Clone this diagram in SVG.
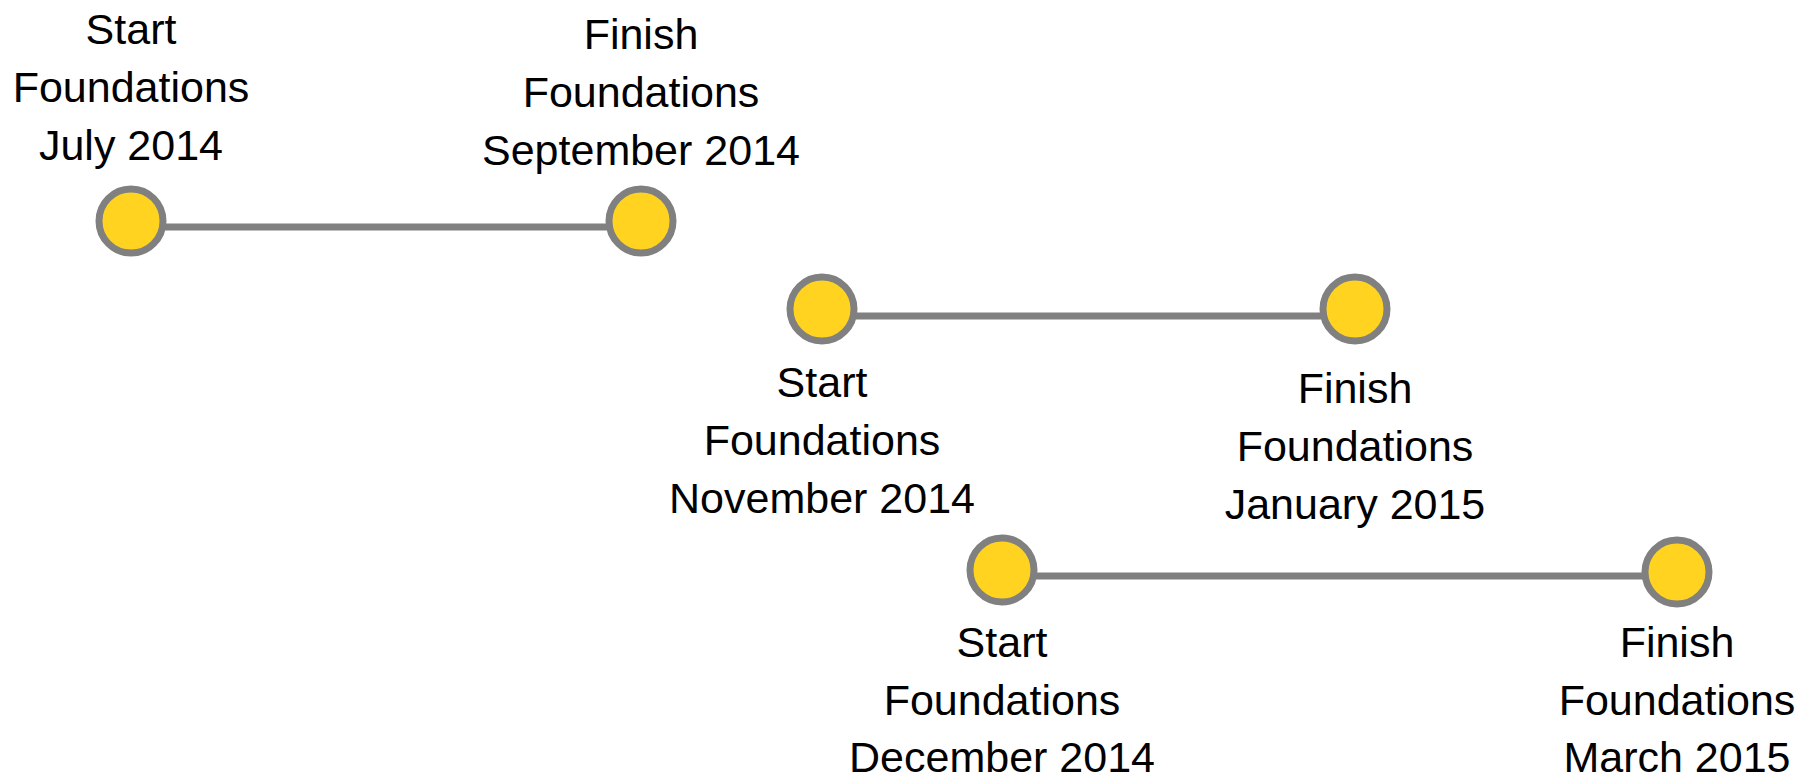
<svg xmlns="http://www.w3.org/2000/svg" width="1816" height="784" viewBox="0 0 1816 784">
  <style>
    .bar { stroke: #808080; stroke-width: 7; fill: none; }
    .dot { fill: #FFD320; stroke: #808080; stroke-width: 7; }
    .lbl { font-family: "Liberation Sans", Arial, sans-serif; font-size: 43px; fill: #000; text-anchor: middle; }
  </style>
  <rect width="1816" height="784" fill="#fff"/>

  <!-- connecting bars between milestones -->
  <g id="connectors">
    <line class="bar" x1="131" y1="227" x2="641" y2="227"/>
    <line class="bar" x1="822" y1="316" x2="1355" y2="316"/>
    <line class="bar" x1="1002" y1="576" x2="1677" y2="576"/>
  </g>

  <g id="start-jul-2014">
    <circle class="dot" cx="131" cy="221" r="32"/>
    <text class="lbl" x="131" y="44">Start</text>
    <text class="lbl" x="131" y="102">Foundations</text>
    <text class="lbl" x="131" y="160">July 2014</text>
  </g>

  <g id="finish-sep-2014">
    <circle class="dot" cx="641" cy="221" r="32"/>
    <text class="lbl" x="641" y="49">Finish</text>
    <text class="lbl" x="641" y="107">Foundations</text>
    <text class="lbl" x="641" y="165">September 2014</text>
  </g>

  <g id="start-nov-2014">
    <circle class="dot" cx="822" cy="309" r="32"/>
    <text class="lbl" x="822" y="397">Start</text>
    <text class="lbl" x="822" y="455">Foundations</text>
    <text class="lbl" x="822" y="513">November 2014</text>
  </g>

  <g id="finish-jan-2015">
    <circle class="dot" cx="1355" cy="309" r="32"/>
    <text class="lbl" x="1355" y="403">Finish</text>
    <text class="lbl" x="1355" y="461">Foundations</text>
    <text class="lbl" x="1355" y="519">January 2015</text>
  </g>

  <g id="start-dec-2014">
    <circle class="dot" cx="1002" cy="570" r="32"/>
    <text class="lbl" x="1002" y="657">Start</text>
    <text class="lbl" x="1002" y="715">Foundations</text>
    <text class="lbl" x="1002" y="772">December 2014</text>
  </g>

  <g id="finish-mar-2015">
    <circle class="dot" cx="1677" cy="572" r="32"/>
    <text class="lbl" x="1677" y="657">Finish</text>
    <text class="lbl" x="1677" y="715">Foundations</text>
    <text class="lbl" x="1677" y="772">March 2015</text>
  </g>
</svg>
